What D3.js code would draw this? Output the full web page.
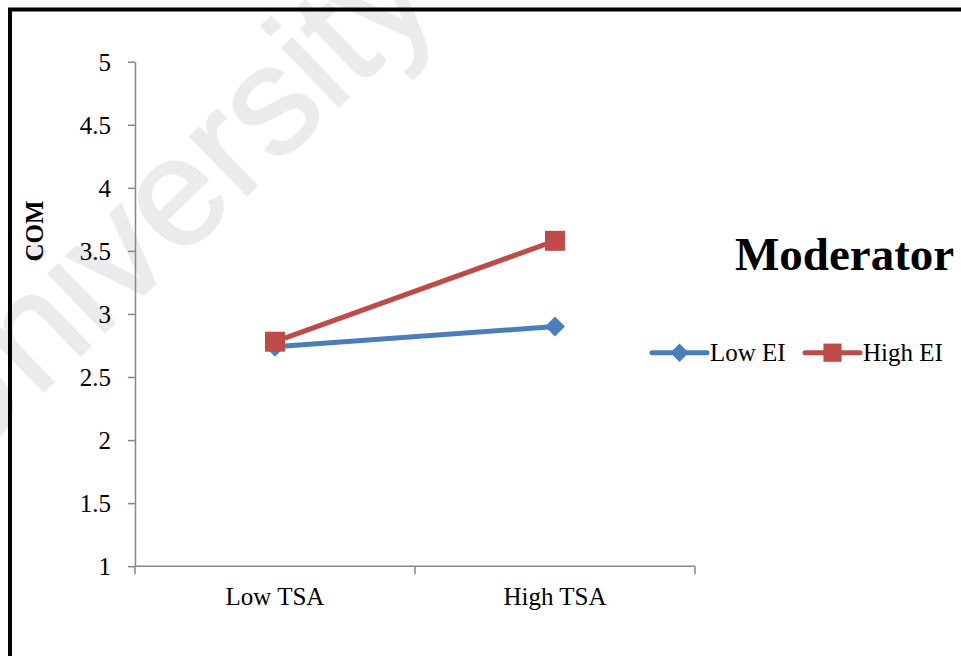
<!DOCTYPE html>
<html>
<head>
<meta charset="utf-8">
<script src="https://cdn.jsdelivr.net/npm/d3@7"></script>
<style>
  html, body { margin: 0; padding: 0; background: #fff; }
  svg { display: block; }
</style>
</head>
<body>
<svg id="chart" width="961" height="656"></svg>
<script>
// Data
const categories = ["Low TSA", "High TSA"];
const seriesNames = ["Low EI", "High EI"];
const lowEI = [2.74, 2.90];
const highEI = [2.78, 3.58];
const yTicks = [1, 1.5, 2, 2.5, 3, 3.5, 4, 4.5, 5];
const yTickLabels = ["1", "1.5", "2", "2.5", "3", "3.5", "4", "4.5", "5"];

const colors = { "Low EI": "#4A7EBB", "High EI": "#BE4B48" };
const serif = "'Liberation Serif', 'Times New Roman', Times, serif";

const svg = d3.select("#chart");

// Faint watermark behind everything
svg.append("text")
  .attr("transform", "translate(-44,476) rotate(-44)")
  .attr("font-family", "'Liberation Sans', Arial, sans-serif")
  .attr("font-size", 154)
  .attr("fill", "#ebebeb")
  .attr("stroke", "#ebebeb")
  .attr("stroke-width", 2)
  .text("University");

// Outer frame (runs off the right and bottom edges)
svg.append("rect")
  .attr("x", 10).attr("y", 9.5)
  .attr("width", 1000).attr("height", 700)
  .attr("fill", "none")
  .attr("stroke", "#000")
  .attr("stroke-width", 4);

// Scales
const plot = { left: 135, right: 695, top: 61.7, bottom: 566.2 };
const y = d3.scaleLinear().domain([1, 5]).range([plot.bottom, plot.top]);
const xBand = d3.scaleBand().domain(categories).range([plot.left, plot.right]);
const x = d3.scalePoint().domain(categories).range([plot.left, plot.right]).padding(0.5);

const axisColor = "#868686";

// Y axis
const yAxis = d3.axisLeft(y)
  .tickValues(yTicks)
  .tickFormat((d, i) => yTickLabels[i])
  .tickSizeInner(7).tickSizeOuter(0).tickPadding(17);
const gy = svg.append("g").attr("transform", `translate(${plot.left},0)`).call(yAxis);
gy.select(".domain").attr("stroke", axisColor).attr("stroke-width", 1.5);
gy.selectAll(".tick line").attr("stroke", axisColor).attr("stroke-width", 1.5);
gy.selectAll(".tick text")
  .attr("font-family", serif).attr("font-size", 25).attr("fill", "#000")
  .attr("dy", "0.34em");

// X axis: tick marks at category boundaries, labels at category centres
const boundaries = categories.map(c => xBand(c)).concat([xBand.range()[1]]);
const gx = svg.append("g").attr("transform", `translate(0,${plot.bottom})`);
gx.append("line")
  .attr("x1", plot.left).attr("x2", plot.right)
  .attr("stroke", axisColor).attr("stroke-width", 1.5);
gx.selectAll("line.tk").data(boundaries).join("line")
  .attr("class", "tk")
  .attr("x1", d => d).attr("x2", d => d)
  .attr("y1", 0).attr("y2", 8)
  .attr("stroke", axisColor).attr("stroke-width", 1.5);
gx.selectAll("text").data(categories).join("text")
  .attr("x", d => x(d)).attr("y", 39)
  .attr("text-anchor", "middle")
  .attr("font-family", serif).attr("font-size", 25).attr("fill", "#000")
  .text(d => d);

// Y axis title
svg.append("text")
  .attr("transform", "translate(43,231) rotate(-90)")
  .attr("text-anchor", "middle")
  .attr("font-family", serif).attr("font-size", 25).attr("font-weight", "bold")
  .text("COM");

// Series
const series = [
  { name: seriesNames[0], values: lowEI, marker: "diamond" },
  { name: seriesNames[1], values: highEI, marker: "square" }
];

const line = d3.line().x((d, i) => x(categories[i])).y(d => y(d));

// Diamonds are squares turned by 45 degrees
function markerPath(size) {
  return d3.symbol(d3.symbolSquare, size)();
}

series.forEach(s => {
  const g = svg.append("g");
  g.append("path")
    .attr("d", line(s.values))
    .attr("fill", "none")
    .attr("stroke", colors[s.name])
    .attr("stroke-width", 5)
    .attr("stroke-linecap", "round")
    .attr("stroke-linejoin", "round");
  g.selectAll("path.m").data(s.values).join("path")
    .attr("class", "m")
    .attr("d", markerPath(s.marker === "diamond" ? 200 : 400))
    .attr("transform", (d, i) => `translate(${x(categories[i])},${y(d)})` + (s.marker === "diamond" ? " rotate(45)" : ""))
    .attr("fill", colors[s.name]);
});

// Legend title
svg.append("text")
  .attr("x", 735).attr("y", 270)
  .attr("font-family", serif).attr("font-size", 47).attr("font-weight", "bold")
  .text("Moderator");

// Legend entries
const legendItems = [
  { name: seriesNames[0], marker: "diamond", x0: 652 },
  { name: seriesNames[1], marker: "square", x0: 805 }
];
const ly = 352.7;
legendItems.forEach(it => {
  const g = svg.append("g");
  g.append("line")
    .attr("x1", it.x0).attr("x2", it.x0 + 55)
    .attr("y1", ly).attr("y2", ly)
    .attr("stroke", colors[it.name]).attr("stroke-width", 5)
    .attr("stroke-linecap", "round");
  g.append("path")
    .attr("d", markerPath(it.marker === "diamond" ? 170 : 330))
    .attr("transform", `translate(${it.x0 + 27.5},${ly})` + (it.marker === "diamond" ? " rotate(45)" : ""))
    .attr("fill", colors[it.name]);
  g.append("text")
    .attr("x", it.x0 + 58).attr("y", ly + 8)
    .attr("font-family", serif).attr("font-size", 25).attr("fill", "#000")
    .text(it.name);
});
</script>
</body>
</html>
